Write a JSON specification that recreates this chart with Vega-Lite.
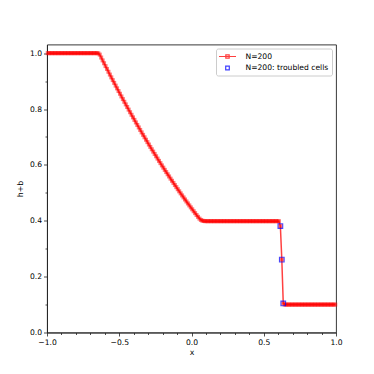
{
  "$schema": "https://vega.github.io/schema/vega-lite/v6.json",
  "autosize": "none",
  "width": 289,
  "height": 288,
  "padding": {"left": 47, "top": 44.5, "right": 38, "bottom": 41.5},
  "background": "white",
  "config": {
    "font": "DejaVu Sans",
    "view": {"stroke": "#222", "strokeWidth": 0.9},
    "axis": {
      "labelFont": "DejaVu Sans", "labelFontSize": 7.6, "labelColor": "#000",
      "titleFont": "DejaVu Sans", "titleFontSize": 7.8, "titleFontWeight": "normal", "titleColor": "#000",
      "domainColor": "#222", "domainWidth": 0.9, "tickColor": "#222", "tickWidth": 0.8,
      "grid": false, "labelPadding": 2
    }
  },
  "datasets": {
    "sol": [
      {"x":-0.995,"h":1},{"x":-0.985,"h":1},{"x":-0.975,"h":1},{"x":-0.965,"h":1},{"x":-0.955,"h":1},{"x":-0.945,"h":1},
      {"x":-0.935,"h":1},{"x":-0.925,"h":1},{"x":-0.915,"h":1},{"x":-0.905,"h":1},{"x":-0.895,"h":1},{"x":-0.885,"h":1},
      {"x":-0.875,"h":1},{"x":-0.865,"h":1},{"x":-0.855,"h":1},{"x":-0.845,"h":1},{"x":-0.835,"h":1},{"x":-0.825,"h":1},
      {"x":-0.815,"h":1},{"x":-0.805,"h":1},{"x":-0.795,"h":1},{"x":-0.785,"h":1},{"x":-0.775,"h":1},{"x":-0.765,"h":1},
      {"x":-0.755,"h":1},{"x":-0.745,"h":1},{"x":-0.735,"h":1},{"x":-0.725,"h":1},{"x":-0.715,"h":1},{"x":-0.705,"h":1},
      {"x":-0.695,"h":1},{"x":-0.685,"h":1},{"x":-0.675,"h":1},{"x":-0.665,"h":1},{"x":-0.655,"h":1},{"x":-0.645,"h":0.9995},
      {"x":-0.635,"h":0.9948},{"x":-0.625,"h":0.9844},{"x":-0.615,"h":0.9741},{"x":-0.605,"h":0.9639},{"x":-0.595,"h":0.9537},
      {"x":-0.585,"h":0.9435},{"x":-0.575,"h":0.9334},{"x":-0.565,"h":0.9234},{"x":-0.555,"h":0.9134},{"x":-0.545,"h":0.9035},
      {"x":-0.535,"h":0.8936},{"x":-0.525,"h":0.8838},{"x":-0.515,"h":0.8740},{"x":-0.505,"h":0.8643},{"x":-0.495,"h":0.8547},
      {"x":-0.485,"h":0.8451},{"x":-0.475,"h":0.8355},{"x":-0.465,"h":0.8260},{"x":-0.455,"h":0.8166},{"x":-0.445,"h":0.8072},
      {"x":-0.435,"h":0.7979},{"x":-0.425,"h":0.7886},{"x":-0.415,"h":0.7794},{"x":-0.405,"h":0.7702},{"x":-0.395,"h":0.7611},
      {"x":-0.385,"h":0.7520},{"x":-0.375,"h":0.7430},{"x":-0.365,"h":0.7341},{"x":-0.355,"h":0.7252},{"x":-0.345,"h":0.7163},
      {"x":-0.335,"h":0.7075},{"x":-0.325,"h":0.6988},{"x":-0.315,"h":0.6901},{"x":-0.305,"h":0.6815},{"x":-0.295,"h":0.6729},
      {"x":-0.285,"h":0.6644},{"x":-0.275,"h":0.6559},{"x":-0.265,"h":0.6475},{"x":-0.255,"h":0.6392},{"x":-0.245,"h":0.6309},
      {"x":-0.235,"h":0.6226},{"x":-0.225,"h":0.6144},{"x":-0.215,"h":0.6063},{"x":-0.205,"h":0.5982},{"x":-0.195,"h":0.5902},
      {"x":-0.185,"h":0.5822},{"x":-0.175,"h":0.5743},{"x":-0.165,"h":0.5664},{"x":-0.155,"h":0.5586},{"x":-0.145,"h":0.5508},
      {"x":-0.135,"h":0.5431},{"x":-0.125,"h":0.5355},{"x":-0.115,"h":0.5279},{"x":-0.105,"h":0.5204},{"x":-0.095,"h":0.5129},
      {"x":-0.085,"h":0.5054},{"x":-0.075,"h":0.4981},{"x":-0.065,"h":0.4907},{"x":-0.055,"h":0.4835},{"x":-0.045,"h":0.4762},
      {"x":-0.035,"h":0.4691},{"x":-0.025,"h":0.4620},{"x":-0.015,"h":0.4549},{"x":-0.005,"h":0.4479},{"x":0.005,"h":0.4410},
      {"x":0.015,"h":0.4341},{"x":0.025,"h":0.4273},{"x":0.035,"h":0.4205},{"x":0.045,"h":0.4140},{"x":0.055,"h":0.4078},
      {"x":0.065,"h":0.4030},{"x":0.075,"h":0.4003},{"x":0.085,"h":0.3993},
      {"x":0.095,"h":0.3985},{"x":0.105,"h":0.3985},{"x":0.115,"h":0.3985},{"x":0.125,"h":0.3985},{"x":0.135,"h":0.3985},
      {"x":0.145,"h":0.3985},{"x":0.155,"h":0.3985},{"x":0.165,"h":0.3985},{"x":0.175,"h":0.3985},{"x":0.185,"h":0.3985},
      {"x":0.195,"h":0.3985},{"x":0.205,"h":0.3985},{"x":0.215,"h":0.3985},{"x":0.225,"h":0.3985},{"x":0.235,"h":0.3985},
      {"x":0.245,"h":0.3985},{"x":0.255,"h":0.3985},{"x":0.265,"h":0.3985},{"x":0.275,"h":0.3985},{"x":0.285,"h":0.3985},
      {"x":0.295,"h":0.3985},{"x":0.305,"h":0.3985},{"x":0.315,"h":0.3985},{"x":0.325,"h":0.3985},{"x":0.335,"h":0.3985},
      {"x":0.345,"h":0.3985},{"x":0.355,"h":0.3985},{"x":0.365,"h":0.3985},{"x":0.375,"h":0.3985},{"x":0.385,"h":0.3985},
      {"x":0.395,"h":0.3985},{"x":0.405,"h":0.3985},{"x":0.415,"h":0.3985},{"x":0.425,"h":0.3985},{"x":0.435,"h":0.3985},
      {"x":0.445,"h":0.3985},{"x":0.455,"h":0.3985},{"x":0.465,"h":0.3985},{"x":0.475,"h":0.3985},{"x":0.485,"h":0.3985},
      {"x":0.495,"h":0.3985},{"x":0.505,"h":0.3985},{"x":0.515,"h":0.3985},{"x":0.525,"h":0.3985},{"x":0.535,"h":0.3985},
      {"x":0.545,"h":0.3985},{"x":0.555,"h":0.3985},{"x":0.565,"h":0.3985},{"x":0.575,"h":0.3985},{"x":0.585,"h":0.3985},
      {"x":0.595,"h":0.3985},{"x":0.605,"h":0.3983},
      {"x":0.615,"h":0.381},{"x":0.625,"h":0.261},{"x":0.635,"h":0.104},
      {"x":0.645,"h":0.1},{"x":0.655,"h":0.1},{"x":0.665,"h":0.1},{"x":0.675,"h":0.1},{"x":0.685,"h":0.1},{"x":0.695,"h":0.1},
      {"x":0.705,"h":0.1},{"x":0.715,"h":0.1},{"x":0.725,"h":0.1},{"x":0.735,"h":0.1},{"x":0.745,"h":0.1},{"x":0.755,"h":0.1},
      {"x":0.765,"h":0.1},{"x":0.775,"h":0.1},{"x":0.785,"h":0.1},{"x":0.795,"h":0.1},{"x":0.805,"h":0.1},{"x":0.815,"h":0.1},
      {"x":0.825,"h":0.1},{"x":0.835,"h":0.1},{"x":0.845,"h":0.1},{"x":0.855,"h":0.1},{"x":0.865,"h":0.1},{"x":0.875,"h":0.1},
      {"x":0.885,"h":0.1},{"x":0.895,"h":0.1},{"x":0.905,"h":0.1},{"x":0.915,"h":0.1},{"x":0.925,"h":0.1},{"x":0.935,"h":0.1},
      {"x":0.945,"h":0.1},{"x":0.955,"h":0.1},{"x":0.965,"h":0.1},{"x":0.975,"h":0.1},{"x":0.985,"h":0.1},{"x":0.995,"h":0.1}
    ],
    "tc": [
      {"x":0.615,"h":0.381},{"x":0.625,"h":0.261},{"x":0.635,"h":0.104}
    ],
    "leg": [
      {"series": "N=200"},
      {"series": "N=200: troubled cells"}
    ]
  },
  "encoding": {
    "x": {
      "field": "x", "type": "quantitative",
      "scale": {"domain": [-1, 1], "nice": false, "zero": false},
      "axis": {
        "title": "x", "titlePadding": 3,
        "values": [-1,-0.9,-0.8,-0.7,-0.6,-0.5,-0.4,-0.3,-0.2,-0.1,0,0.1,0.2,0.3,0.4,0.5,0.6,0.7,0.8,0.9,1],
        "labelExpr": "abs(datum.value*2 - round(datum.value*2)) < 0.001 ? format(datum.value, '.1f') : ''",
        "tickSize": {"condition": {"test": "abs(datum.value*2 - round(datum.value*2)) < 0.001", "value": 3.5}, "value": 2},
        "labelFlush": false, "labelOverlap": false
      }
    },
    "y": {
      "field": "h", "type": "quantitative",
      "scale": {"domain": [0, 1.031], "nice": false},
      "axis": {
        "title": "h+b", "titlePadding": 5,
        "values": [0,0.1,0.2,0.3,0.4,0.5,0.6,0.7,0.8,0.9,1.0],
        "labelExpr": "abs(datum.value*5 - round(datum.value*5)) < 0.001 ? format(datum.value, '.1f') : ''",
        "tickSize": {"condition": {"test": "abs(datum.value*5 - round(datum.value*5)) < 0.001", "value": 3.5}, "value": 2},
        "labelFlush": false, "labelOverlap": false
      }
    }
  },
  "layer": [
    {
      "data": {"name": "sol"},
      "mark": {"type": "line", "color": "red", "strokeWidth": 1.5, "opacity": 0.75}
    },
    {
      "data": {"name": "sol"},
      "mark": {"type": "point", "shape": "square", "filled": true, "color": "red", "size": 16, "opacity": 0.55, "strokeWidth": 0}
    },
    {
      "data": {"name": "tc"},
      "mark": {"type": "point", "shape": "square", "filled": false, "color": "blue", "size": 22, "opacity": 0.7, "strokeWidth": 1.1}
    },
    {
      "data": {"name": "leg"},
      "mark": {"type": "point", "filled": false, "opacity": 0, "strokeWidth": 1.3},
      "encoding": {
        "color": {
          "field": "series", "type": "nominal",
          "scale": {"domain": ["N=200", "N=200: troubled cells"], "range": ["red", "blue"]},
          "legend": {
            "orient": "top-right", "offset": 4, "title": null,
            "labelFont": "DejaVu Sans", "labelFontSize": 7.6, "labelColor": "#000",
            "strokeColor": "#cccccc", "fillColor": "white", "padding": 3, "cornerRadius": 2,
            "symbolSize": 64, "rowPadding": 1.5, "labelOffset": 13, "symbolOffset": 3.5,
            "symbolStrokeWidth": 1.2, "symbolOpacity": 0.75
          }
        },
        "shape": {
          "field": "series", "type": "nominal",
          "scale": {"domain": ["N=200", "N=200: troubled cells"], "range": ["M-2.125,0H2.125M-0.42,-0.42H0.42V0.42H-0.42Z", "M-0.45,-0.45H0.45V0.45H-0.45Z"]},
          "legend": {
            "orient": "top-right", "offset": 4, "title": null,
            "labelFont": "DejaVu Sans", "labelFontSize": 7.6, "labelColor": "#000",
            "strokeColor": "#cccccc", "fillColor": "white", "padding": 3, "cornerRadius": 2,
            "symbolSize": 64, "rowPadding": 1.5, "labelOffset": 13, "symbolOffset": 3.5,
            "symbolStrokeWidth": 1.2, "symbolOpacity": 0.75
          }
        }
      }
    }
  ]
}
